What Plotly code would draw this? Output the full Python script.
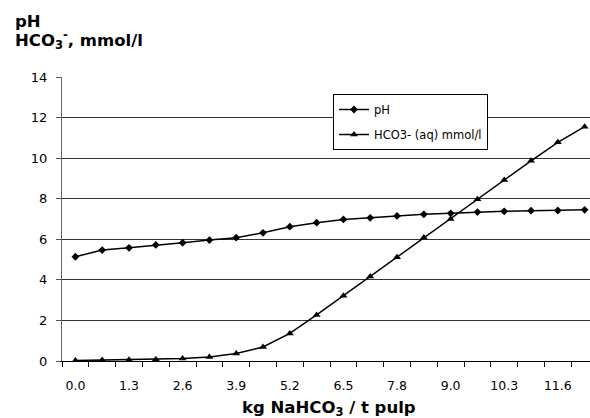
import plotly.graph_objects as go

# ---- data ----
categories = ["0.0", "0.6", "1.3", "1.9", "2.6", "3.2", "3.9", "4.5", "5.2", "5.8",
              "6.5", "7.1", "7.8", "8.4", "9.0", "9.7", "10.3", "11.0", "11.6", "12.3"]
ph_values = [5.14, 5.47, 5.58, 5.72, 5.83, 5.96, 6.08, 6.32, 6.62, 6.82,
             6.98, 7.06, 7.15, 7.23, 7.28, 7.34, 7.38, 7.41, 7.42, 7.45]
hco3_values = [0.02, 0.05, 0.06, 0.08, 0.12, 0.2, 0.37, 0.69, 1.36, 2.27,
               3.22, 4.17, 5.12, 6.09, 7.0, 7.97, 8.92, 9.87, 10.78, 11.55]
y_ticks = [0, 2, 4, 6, 8, 10, 12, 14]

x_idx = list(range(len(categories)))

L, R, T, B = 62, 0, 77, 57
W, H = 590, 418
PW, PH = W - L - R, H - T - B

def px_x(x):
    return (x - L) / PW

def px_y(y):
    return (H - B - y) / PH

fig = go.Figure()
fig.add_trace(go.Scatter(
    x=x_idx, y=ph_values, mode="lines+markers", name="pH", legendgroup="a",
    line=dict(color="black", width=1.5),
    marker=dict(symbol="diamond", size=6, color="black")))
fig.add_trace(go.Scatter(
    x=x_idx, y=hco3_values, mode="lines+markers", name="HCO3- (aq) mmol/l", legendgroup="b",
    line=dict(color="black", width=1.5),
    marker=dict(symbol="triangle-up", size=7, color="black")))

fig.update_layout(
    width=W, height=H,
    margin=dict(l=L, r=R, t=T, b=B, autoexpand=False),
    paper_bgcolor="white", plot_bgcolor="white",
    font=dict(family="DejaVu Sans", size=12, color="black"),
    showlegend=True,
    legend=dict(x=px_x(333), y=px_y(94), xanchor="left", yanchor="top",
                bgcolor="white", bordercolor="black", borderwidth=1,
                font=dict(family="DejaVu Sans", size=11.5, color="black"),
                itemwidth=30, tracegroupgap=6, traceorder="grouped"),
    xaxis=dict(
        range=[-0.5, 19.2], tickmode="array",
        tickvals=x_idx[::2], ticktext=categories[::2],
        ticks="", showgrid=False, zeroline=False, automargin=False,
        showline=True, linecolor="black", linewidth=1,
        tickfont=dict(family="DejaVu Sans", size=12.5),
        ticklabelstandoff=13,
        minor=dict(tick0=-0.5, dtick=1, ticks="outside", ticklen=5,
                   tickcolor="black", showgrid=False),
    ),
    yaxis=dict(
        range=[0, 14], tickvals=y_ticks, ticks="outside", ticklen=5,
        tickcolor="#555", showgrid=True, gridcolor="#333333", gridwidth=1,
        zeroline=False, showline=True, linecolor="#666", linewidth=1,
        automargin=False,
        tickfont=dict(family="DejaVu Sans", size=13),
        ticklabelstandoff=6,
    ),
)

fig.add_annotation(text="<b>pH</b>", xref="paper", yref="paper",
                   x=px_x(13), y=px_y(21), xanchor="left", yanchor="middle",
                   showarrow=False, font=dict(family="DejaVu Sans", size=16.5, color="black"))
fig.add_annotation(text="<b>HCO<sub>3</sub><sup>-</sup>, mmol/l</b>", xref="paper", yref="paper",
                   x=px_x(13), y=px_y(40), xanchor="left", yanchor="middle",
                   showarrow=False, font=dict(family="DejaVu Sans", size=16.5, color="black"))
fig.add_annotation(text="<b>kg NaHCO<sub>3</sub> / t pulp</b>", xref="paper", yref="paper",
                   x=px_x(329), y=px_y(408), xanchor="center", yanchor="middle",
                   showarrow=False, font=dict(family="DejaVu Sans", size=16.5, color="black"))

fig.write_html("out.html", config={"displayModeBar": False},
               post_script="document.body.style.margin='0';")
